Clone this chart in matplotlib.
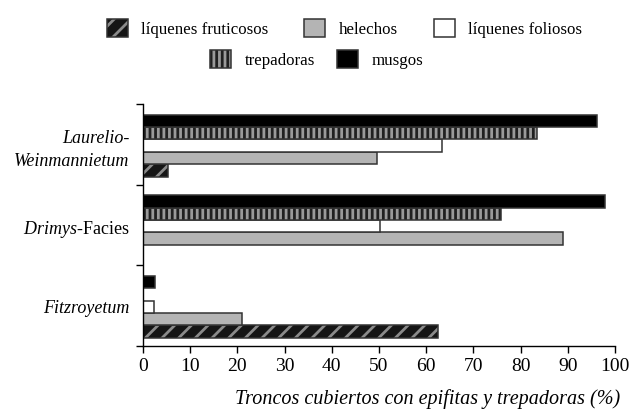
import matplotlib
matplotlib.use("Agg")
from matplotlib import pyplot as plt
from matplotlib.patches import Patch
import numpy as np

plt.rcParams['font.family'] = ['Liberation Serif', 'DejaVu Serif']
plt.rcParams['mathtext.fontset'] = 'custom'
plt.rcParams['mathtext.rm'] = 'Liberation Serif'
plt.rcParams['mathtext.it'] = 'Liberation Serif:italic'
plt.rcParams['hatch.linewidth'] = 2.0

# groups from bottom to top
groups = ['Fitzroyetum', 'Drimys-Facies', 'Laurelio-Weinmannietum']
group_labels = ['Fitzroyetum', r'$\mathit{Drimys}$-Facies', 'Laurelio-\nWeinmannietum']

series = ['líquenes fruticosos', 'helechos', 'líquenes foliosos', 'trepadoras', 'musgos']
fruticosos = [62.6, 0.0, 5.3]
helechos = [21.0, 89.0, 49.6]
foliosos = [2.4, 50.2, 63.4]
trepadoras = [0.0, 75.8, 83.5]
musgos = [2.5, 97.9, 96.2]

values = {'líquenes fruticosos': fruticosos, 'helechos': helechos,
          'líquenes foliosos': foliosos, 'trepadoras': trepadoras, 'musgos': musgos}

# fill, hatch, hatch colour
styles = {
    'líquenes fruticosos': ('#151515', '//', '#8a8a8a'),
    'helechos': ('#b4b4b4', '', '#b4b4b4'),
    'líquenes foliosos': ('white', '', 'white'),
    'trepadoras': ('#202020', '|||', '#9a9a9a'),
    'musgos': ('black', '', 'black'),
}
# offset of each bar inside its group (top to bottom: musgos ... fruticosos)
offsets = {'musgos': 0.793, 'trepadoras': 0.639, 'líquenes foliosos': 0.485,
           'helechos': 0.331, 'líquenes fruticosos': 0.177}
bar_h = 0.154
outline = '#333333'

fig = plt.figure(figsize=(6.3, 4.14), dpi=100)
ax = fig.add_axes([0.227, 0.162, 0.749, 0.584])

base = np.arange(len(groups))
handles = []
for name in series:
    fc, hatch, hc = styles[name]
    y = base + offsets[name]
    vals = values[name]
    ax.barh(y, vals, height=bar_h, color=fc, hatch=hatch, edgecolor=hc, linewidth=0)
    for yy, v in zip(y, vals):
        if v > 0:
            ax.barh(yy, v, height=bar_h, fill=False, edgecolor=outline, linewidth=1.1)
    handles.append((Patch(facecolor=fc, hatch=hatch, edgecolor=hc, linewidth=0),
                    Patch(fill=False, edgecolor=outline, linewidth=1.1)))

ax.set_xlim(0, 100)
ax.set_ylim(0, 3)
ax.set_xticks(np.arange(0, 101, 10))
ax.tick_params(axis='x', labelsize=14, length=5, width=1, direction='out', pad=3)
ax.set_yticks([0, 1, 2, 3])
ax.set_yticklabels([])
ax.set_yticks(base + 0.5, minor=True)
labs = ax.set_yticklabels(group_labels, minor=True, fontsize=13, linespacing=1.4)
labs[0].set_style('italic')
labs[2].set_style('italic')
ax.tick_params(axis='y', which='major', length=5, width=1)
ax.tick_params(axis='y', which='minor', length=0, pad=10)
for s in ['top', 'right']:
    ax.spines[s].set_visible(False)
ax.spines['left'].set_linewidth(1)
ax.spines['bottom'].set_linewidth(1)

fig.text(0.985, 0.035, 'Troncos cubiertos con epifitas y trepadoras (%)',
         ha='right', va='center', fontsize=14.5, style='italic')

kw = dict(frameon=False, fontsize=12.2, handlelength=1.25, handleheight=1.3,
          handletextpad=0.8, borderpad=0, borderaxespad=0)
leg1 = fig.legend(handles[:3], series[:3], ncol=3, loc='center',
                  bbox_to_anchor=(0.547, 0.93), columnspacing=2.1, **kw)
leg2 = fig.legend(handles[3:], series[3:], ncol=2, loc='center',
                  bbox_to_anchor=(0.503, 0.855), columnspacing=1.3, **kw)

plt.savefig('out.png', dpi=100)
